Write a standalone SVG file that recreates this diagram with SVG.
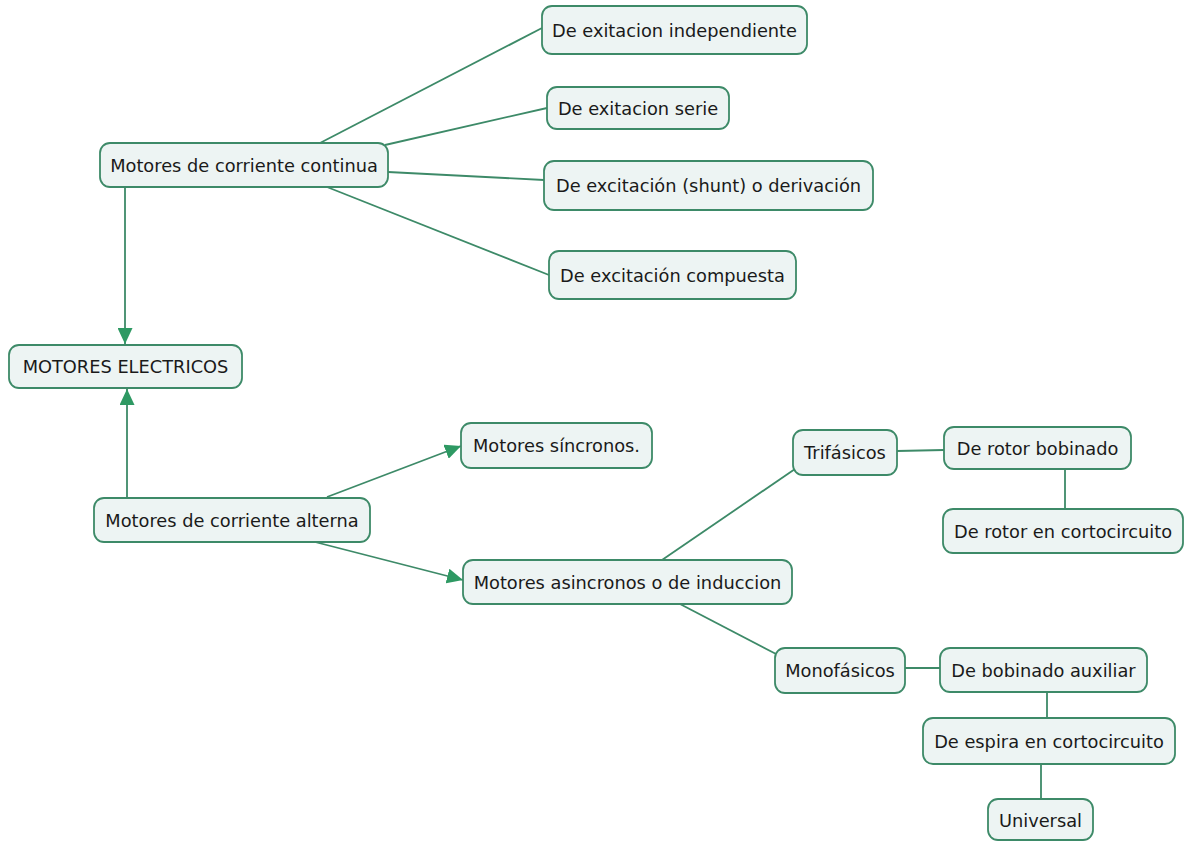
<svg xmlns="http://www.w3.org/2000/svg" width="1184" height="842" viewBox="0 0 1184 842">
  <style>
    .box { fill: #edf4f3; stroke: #3d8a68; stroke-width: 1.8; }
    .lbl { font-family: "DejaVu Sans", Verdana, sans-serif; font-size: 17.8px; fill: #1a1a1a; text-anchor: middle; dominant-baseline: central; }
    .link { stroke: #3d8a68; stroke-width: 1.8; fill: none; }
  </style>
  <defs>
    <marker id="arrow" viewBox="0 0 16 15" refX="16" refY="7.5" markerWidth="16" markerHeight="15" markerUnits="userSpaceOnUse" orient="auto">
      <path d="M0,0 L16,7.5 L0,15 z" fill="#2e9963"/>
    </marker>
  </defs>
  <rect width="1184" height="842" fill="#ffffff"/>

  <g id="connectors">
    <line class="link" x1="320" y1="143" x2="542" y2="28"/>
    <line class="link" x1="385" y1="145" x2="547" y2="108"/>
    <line class="link" x1="388" y1="172" x2="544" y2="180"/>
    <line class="link" x1="327" y1="187" x2="549" y2="275"/>
    <line class="link" x1="125" y1="187" x2="125" y2="344" marker-end="url(#arrow)"/>
    <line class="link" x1="127" y1="498" x2="127" y2="389" marker-end="url(#arrow)"/>
    <line class="link" x1="327" y1="497" x2="461" y2="446" marker-end="url(#arrow)"/>
    <line class="link" x1="315" y1="542" x2="463" y2="580" marker-end="url(#arrow)"/>
    <line class="link" x1="662" y1="560" x2="795" y2="469"/>
    <line class="link" x1="680" y1="604" x2="778" y2="655"/>
    <line class="link" x1="897" y1="451" x2="944" y2="450"/>
    <line class="link" x1="1065" y1="469" x2="1065" y2="509"/>
    <line class="link" x1="905" y1="668" x2="940" y2="668"/>
    <line class="link" x1="1047" y1="692" x2="1047" y2="718"/>
    <line class="link" x1="1041" y1="764" x2="1041" y2="799"/>
  </g>

  <g id="n-continua">
    <rect class="box" x="100" y="143" width="288" height="44" rx="10"/>
    <text class="lbl" x="244" y="165">Motores de corriente continua</text>
  </g>
  <g id="n-independiente">
    <rect class="box" x="542" y="6" width="265" height="48" rx="10"/>
    <text class="lbl" x="674.5" y="30">De exitacion independiente</text>
  </g>
  <g id="n-serie">
    <rect class="box" x="547" y="87" width="182" height="42" rx="10"/>
    <text class="lbl" x="638" y="108">De exitacion serie</text>
  </g>
  <g id="n-shunt">
    <rect class="box" x="544" y="161" width="329" height="49" rx="10"/>
    <text class="lbl" x="708.5" y="185.5">De excitación (shunt) o derivación</text>
  </g>
  <g id="n-compuesta">
    <rect class="box" x="549" y="251" width="247" height="48" rx="10"/>
    <text class="lbl" x="672.5" y="275">De excitación compuesta</text>
  </g>
  <g id="n-electricos">
    <rect class="box" x="9" y="345" width="233" height="43" rx="10"/>
    <text class="lbl" x="125.5" y="366.5">MOTORES ELECTRICOS</text>
  </g>
  <g id="n-alterna">
    <rect class="box" x="94" y="498" width="276" height="44" rx="10"/>
    <text class="lbl" x="232" y="520">Motores de corriente alterna</text>
  </g>
  <g id="n-sincronos">
    <rect class="box" x="461" y="423" width="191" height="45" rx="10"/>
    <text class="lbl" x="556.5" y="445.5">Motores síncronos.</text>
  </g>
  <g id="n-asincronos">
    <rect class="box" x="463" y="560" width="329" height="44" rx="10"/>
    <text class="lbl" x="627.5" y="582">Motores asincronos o de induccion</text>
  </g>
  <g id="n-trifasicos">
    <rect class="box" x="793" y="430" width="104" height="45" rx="10"/>
    <text class="lbl" x="845" y="452.5">Trifásicos</text>
  </g>
  <g id="n-rotor-bobinado">
    <rect class="box" x="944" y="427" width="187" height="42" rx="10"/>
    <text class="lbl" x="1037.5" y="448">De rotor bobinado</text>
  </g>
  <g id="n-rotor-corto">
    <rect class="box" x="943" y="509" width="240" height="44" rx="10"/>
    <text class="lbl" x="1063" y="531">De rotor en cortocircuito</text>
  </g>
  <g id="n-monofasicos">
    <rect class="box" x="775" y="648" width="130" height="45" rx="10"/>
    <text class="lbl" x="840" y="670.5">Monofásicos</text>
  </g>
  <g id="n-bobinado-aux">
    <rect class="box" x="940" y="648" width="207" height="44" rx="10"/>
    <text class="lbl" x="1043.5" y="670">De bobinado auxiliar</text>
  </g>
  <g id="n-espira">
    <rect class="box" x="923" y="718" width="252" height="46" rx="10"/>
    <text class="lbl" x="1049" y="741">De espira en cortocircuito</text>
  </g>
  <g id="n-universal">
    <rect class="box" x="988" y="799" width="105" height="41" rx="10"/>
    <text class="lbl" x="1040.5" y="820">Universal</text>
  </g>
</svg>
